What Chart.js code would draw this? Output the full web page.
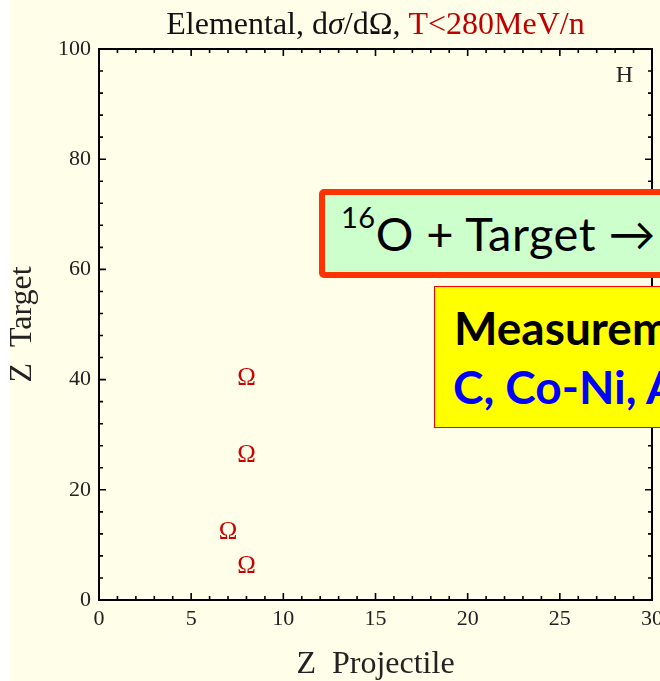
<!DOCTYPE html>
<html>
<head>
<meta charset="utf-8">
<script src="https://cdn.jsdelivr.net/npm/chart.js@4/dist/chart.umd.min.js"></script>
<style>
  html, body { margin: 0; padding: 0; background: #ffffff; }
  #wrap { position: relative; width: 660px; height: 681px; overflow: hidden; }
  #paper { position: absolute; left: 10px; top: 0; right: 0; bottom: 0; background: #fefee9; }
  #plot { position: absolute; left: 0; top: 0; width: 660px; height: 681px; }
  .note { position: absolute; box-sizing: border-box; white-space: nowrap; font-family: Lato, "Open Sans", sans-serif; }
  #reaction { left: 319px; top: 189px; width: 420px; height: 89px; background: #ccffcc;
              border: 6px solid #ff3300; border-radius: 5px; }
  #reaction span.t { position: absolute; left: 16px; top: 11px; font-size: 47px; line-height: 54px; color: #000; letter-spacing: 0.5px; }
  #reaction sup { font-size: 29px; position: relative; top: -4px; vertical-align: top; line-height: 30px; }
  #measured { left: 434px; top: 286px; width: 320px; height: 142px; background: #ffff00;
              border: 1.5px solid #ff0000; }
  #measured .l1 { position: absolute; left: 19px; top: 15px; font-size: 46px; line-height: 52px; font-weight: 700; color: #000; }
  #measured .l2 { position: absolute; left: 18px; top: 74px; font-size: 46px; line-height: 52px; font-weight: 700; color: #0000ff; }
</style>
</head>
<body>
<div id="wrap">
  <div id="paper"></div>
  <canvas id="plot" width="660" height="681"></canvas>
  <div class="note" id="reaction"><span class="t"><sup>16</sup>O + Target &#8594;</span></div>
  <div class="note" id="measured"><span class="l1">Measurements</span><span class="l2">C, Co-Ni, Al</span></div>
</div>
<script>
// Measured projectile/target combinations (nuclear charge Z)
const projectileZ = [8, 8, 7, 8];
const targetZ = [40, 26, 12, 6];
// Hydrogen target marker
const hydrogenX = [28.5];
const hydrogenY = [95];

const xTickLabels = [0, 5, 10, 15, 20, 25, 30];
const yTickLabels = [0, 20, 40, 60, 80, 100];
const xMinorStep = 1;
const yMinorStep = 4;

const SERIF = '"Liberation Serif", "DejaVu Serif", serif';

// Title with a black and a red part
const titlePlugin = {
  id: 'mixedTitle',
  afterDraw(chart) {
    const { ctx, chartArea } = chart;
    const cx = (chartArea.left + chartArea.right) / 2;
    const y = 34;
    const parts = [
      { t: 'Elemental, d', c: '#111', f: '32px ' + SERIF },
      { t: 'σ', c: '#111', f: 'italic 32px ' + SERIF },
      { t: '/dΩ, ', c: '#111', f: '32px ' + SERIF },
      { t: 'T<280MeV/n', c: '#c00000', f: '32px ' + SERIF }
    ];
    ctx.save();
    ctx.textBaseline = 'alphabetic';
    let total = 0;
    parts.forEach(p => { ctx.font = p.f; p.w = ctx.measureText(p.t).width; total += p.w; });
    let x = cx - total / 2;
    parts.forEach(p => { ctx.font = p.f; ctx.fillStyle = p.c; ctx.textAlign = 'left'; ctx.fillText(p.t, x, y); x += p.w; });
    ctx.restore();
  }
};

// Box frame with inward ticks on all four sides
const framePlugin = {
  id: 'frameTicks',
  afterDatasetsDraw(chart) {
    const { ctx, chartArea: a, scales } = chart;
    const xs = scales.x, ys = scales.y;
    ctx.save();
    ctx.strokeStyle = '#000';
    ctx.lineWidth = 1.6;
    for (let v = xs.min; v <= xs.max + 1e-9; v += xMinorStep) {
      const px = xs.getPixelForValue(v);
      const len = (v % 5 === 0) ? 7 : 4;
      ctx.beginPath();
      ctx.moveTo(px, a.bottom); ctx.lineTo(px, a.bottom - len);
      ctx.moveTo(px, a.top); ctx.lineTo(px, a.top + len);
      ctx.stroke();
    }
    for (let v = ys.min; v <= ys.max + 1e-9; v += yMinorStep) {
      const py = ys.getPixelForValue(v);
      const len = (v % 20 === 0) ? 7 : 4;
      ctx.beginPath();
      ctx.moveTo(a.left, py); ctx.lineTo(a.left + len, py);
      ctx.moveTo(a.right, py); ctx.lineTo(a.right - len, py);
      ctx.stroke();
    }
    ctx.lineWidth = 2;
    ctx.strokeRect(a.left, a.top, a.right - a.left, a.bottom - a.top);
    ctx.restore();
  }
};

// Each point is drawn as a text glyph at the element position
const glyphPlugin = {
  id: 'glyphPoints',
  afterDatasetsDraw(chart) {
    const { ctx } = chart;
    ctx.save();
    ctx.textAlign = 'center';
    ctx.textBaseline = 'middle';
    chart.data.datasets.forEach((ds, i) => {
      const meta = chart.getDatasetMeta(i);
      ctx.font = ds.glyphFont;
      ctx.fillStyle = ds.glyphColor;
      meta.data.forEach(el => ctx.fillText(ds.glyph, el.x, el.y - 1));
    });
    ctx.restore();
  }
};

const toPoints = (xs, ys) => xs.map((x, i) => ({ x, y: ys[i] }));

new Chart(document.getElementById('plot'), {
  type: 'scatter',
  data: {
    datasets: [
      { label: 'Ω', data: toPoints(projectileZ, targetZ), pointRadius: 0, pointHoverRadius: 0,
        glyph: 'Ω', glyphColor: '#cc0000', glyphFont: '25px ' + SERIF },
      { label: 'H', data: toPoints(hydrogenX, hydrogenY), pointRadius: 0, pointHoverRadius: 0,
        glyph: 'H', glyphColor: '#222', glyphFont: '24px ' + SERIF }
    ]
  },
  options: {
    responsive: false,
    animation: false,
    events: [],
    layout: { padding: { top: 49, right: 8, left: 0, bottom: 0 } },
    plugins: { legend: { display: false }, tooltip: { enabled: false }, title: { display: false } },
    scales: {
      x: {
        type: 'linear', min: 0, max: 30,
        afterBuildTicks: s => { s.ticks = xTickLabels.map(v => ({ value: v })); },
        afterFit: s => { s.height = 81; s.paddingLeft = 0; s.paddingRight = 0; },
        grid: { display: false, drawTicks: false },
        border: { display: false },
        ticks: { color: '#222', font: { family: SERIF, size: 22 }, padding: 6, maxRotation: 0 },
        title: { display: true, text: 'Z  Projectile', color: '#222', font: { family: SERIF, size: 32 }, padding: { top: 0, bottom: -3 } }
      },
      y: {
        type: 'linear', min: 0, max: 100,
        afterBuildTicks: s => { s.ticks = yTickLabels.map(v => ({ value: v })); },
        afterFit: s => { s.width = 99; s.paddingTop = 0; s.paddingBottom = 0; },
        grid: { display: false, drawTicks: false },
        border: { display: false },
        ticks: { color: '#222', font: { family: SERIF, size: 22 }, padding: 8 },
        title: { display: true, text: 'Z  Target', color: '#222', font: { family: SERIF, size: 32 }, padding: { top: 3, bottom: 0 } }
      }
    }
  },
  plugins: [titlePlugin, framePlugin, glyphPlugin]
});
</script>
</body>
</html>
